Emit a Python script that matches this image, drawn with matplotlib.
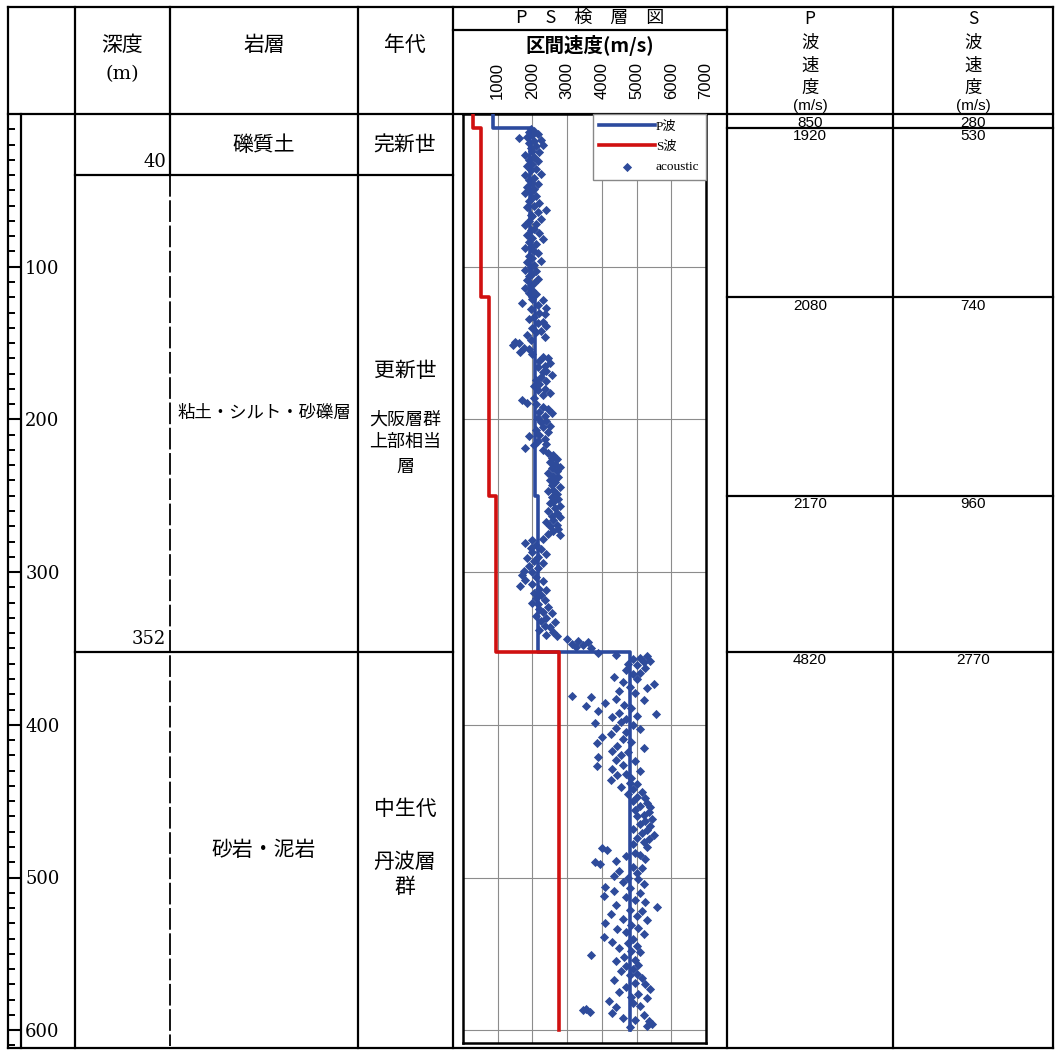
import matplotlib
matplotlib.use("Agg")
import matplotlib.pyplot as plt
from matplotlib.ticker import MultipleLocator, FuncFormatter

JP = ['Noto Sans CJK JP', 'DejaVu Sans']
SERIF = ['DejaVu Serif']
SANS = ['Liberation Sans', 'Noto Sans CJK JP']

# 地層区分 (深度 m)
layer_top = [0, 40, 352]
layer_rock = ['礫質土', '粘土・シルト・砂礫層', '砂岩・泥岩']

# PS検層 区間速度
vel_top = [0, 9, 120, 250, 352]
vel_bottom = [9, 120, 250, 352, 600]
p_vel = [850, 1920, 2080, 2170, 4820]
s_vel = [280, 530, 740, 960, 2770]

vel_ticks = [1000, 2000, 3000, 4000, 5000, 6000, 7000]
depth_ticks = [100, 200, 300, 400, 500, 600]

# acoustic (深度, 速度) 図から読み取り
acoustic = [
    (10, 1950), (11, 2050), (12, 1900), (13, 2150), (14, 2000), (15, 1850), (16, 1600), (17, 2250),
    (18, 2050), (19, 1900), (20, 2300), (21, 2100), (22, 1950), (24, 2000), (25, 2200), (27, 1800),
    (28, 2050), (30, 1900), (31, 2150), (33, 2000), (34, 1850), (36, 2100), (37, 1950), (39, 2250),
    (40, 1800), (42, 2050), (43, 1900), (45, 2000), (46, 2150), (48, 1850), (49, 2050), (51, 1950),
    (52, 1800), (54, 2100), (55, 2000), (57, 1900), (58, 2200), (60, 2050), (61, 1850), (63, 2400),
    (64, 2150), (66, 1950), (67, 2000), (69, 2250), (70, 1900), (72, 2100), (73, 1800), (75, 2050),
    (76, 1950), (78, 2200), (79, 1850), (81, 2000), (82, 2300), (84, 1900), (85, 2100), (87, 1950),
    (88, 1800), (90, 2050), (91, 2150), (93, 1900), (94, 2000), (96, 2250), (97, 1850), (99, 2050),
    (100, 1950), (102, 1800), (103, 2100), (105, 2000), (106, 1900), (108, 2150), (109, 1850),
    (111, 2050), (112, 1950), (114, 1800), (115, 2000), (117, 1900), (118, 2100),
    (121, 2000), (122, 2300), (124, 1700), (125, 2150), (127, 2400), (128, 1950), (130, 2200),
    (131, 2350), (133, 2050), (134, 1900), (136, 2300), (137, 2150), (139, 2400), (140, 2000),
    (142, 2250), (143, 2100), (145, 1850), (146, 2350), (148, 1950), (149, 1500), (150, 1600),
    (151, 1450), (153, 1750), (154, 1900), (156, 1650), (157, 2000), (159, 2300), (160, 2450),
    (162, 2200), (163, 2500), (165, 2350), (166, 2150), (168, 2400), (169, 2300), (171, 2550),
    (172, 2250), (174, 2100), (175, 2400), (177, 2200), (178, 2050), (180, 2350), (181, 2150),
    (183, 2500), (184, 2300), (186, 2050), (187, 1700), (189, 1850), (190, 2100), (192, 2300),
    (193, 2450), (195, 2200), (196, 2550), (198, 2350), (199, 2150), (201, 2400), (202, 2250),
    (204, 2500), (205, 2300), (207, 2100), (208, 2450), (210, 2200), (211, 1900), (213, 2350),
    (214, 2150), (216, 2400), (217, 2050), (219, 1800), (220, 2300), (222, 2450), (223, 2600),
    (225, 2550), (226, 2700), (228, 2500), (229, 2650), (231, 2800), (232, 2550), (234, 2700),
    (235, 2450), (237, 2600), (238, 2750), (240, 2500), (241, 2650), (243, 2550), (244, 2800),
    (246, 2600), (247, 2450), (249, 2700),
    (251, 2550), (252, 2750), (254, 2600), (255, 2500), (257, 2800), (258, 2650), (260, 2450),
    (261, 2700), (263, 2550), (264, 2800), (266, 2600), (267, 2400), (269, 2700), (270, 2500),
    (272, 2750), (273, 2600), (275, 2450), (276, 2800), (278, 2300), (279, 2000), (281, 1800),
    (282, 2100), (284, 1950), (285, 2250), (287, 2000), (288, 2400), (290, 2150), (291, 1850),
    (293, 2050), (294, 2300), (296, 1900), (297, 2150), (299, 1750), (300, 2000), (302, 1700),
    (303, 2100), (305, 1800), (306, 2300), (308, 2000), (309, 1650), (311, 2200), (312, 2400),
    (314, 2050), (315, 2250), (317, 2100), (318, 2350), (320, 2000), (321, 2150), (323, 2450),
    (324, 2200), (326, 2300), (327, 2550), (329, 2100), (330, 2400), (332, 2250), (333, 2650),
    (335, 2350), (336, 2500), (338, 2200), (339, 2600), (341, 2400), (342, 2700), (344, 3000),
    (345, 3300), (346, 3600), (347, 3150), (348, 3450), (349, 3250), (350, 3700),
    (353, 3900), (354, 4400), (355, 5300), (356, 5100), (357, 4900), (358, 5400), (359, 5200),
    (360, 4750), (361, 5000), (363, 5250), (364, 4700), (366, 5100), (367, 4900), (369, 4350),
    (370, 5000), (372, 4600), (373, 5500), (375, 4800), (376, 5300), (378, 4500), (379, 4950),
    (381, 3150), (382, 3700), (383, 4400), (384, 5200), (386, 4100), (387, 4650), (388, 3550),
    (389, 4850), (391, 3900), (392, 4500), (393, 5550), (394, 5000), (395, 4300), (396, 4700),
    (398, 4550), (399, 3800), (400, 4900), (402, 4400), (403, 5100), (405, 4700), (406, 4250),
    (408, 4000), (409, 4600), (411, 4850), (412, 3850), (414, 4450), (415, 5200), (417, 4300),
    (418, 4750), (420, 4550), (421, 3900), (423, 4400), (424, 4950), (426, 4600), (427, 3850),
    (429, 4300), (430, 5100), (432, 4700), (433, 4450), (435, 4850), (436, 4250), (438, 4800),
    (439, 5000), (441, 4550), (442, 4900), (444, 5150), (445, 4750), (447, 5000), (448, 5250),
    (450, 4900), (451, 5300), (453, 5100), (454, 5400), (456, 4950), (457, 5350), (459, 5200),
    (460, 5000), (462, 5450), (463, 5250), (465, 5100), (466, 5400), (468, 4900), (469, 5300),
    (471, 5150), (472, 5500), (474, 5000), (475, 5350), (477, 5200), (478, 4900), (480, 5300),
    (481, 4000), (482, 4150), (484, 4950), (485, 5100), (486, 4700), (488, 5250), (489, 4400),
    (490, 3800), (491, 3950), (493, 4900), (494, 5150), (496, 4500), (497, 5000), (499, 4350),
    (500, 4750), (501, 5050), (503, 4600), (504, 5200), (506, 4100), (507, 4800), (509, 4350),
    (510, 5100), (512, 4050), (513, 4700), (515, 4950), (516, 5250), (518, 4400), (519, 5600),
    (521, 4800), (522, 5150), (524, 4250), (525, 5000), (527, 4600), (528, 5300), (530, 4100),
    (531, 4850), (533, 5050), (534, 4450), (536, 4700), (537, 5200), (539, 4050), (540, 4900),
    (542, 4300), (543, 4750), (545, 5000), (546, 4500), (548, 4850), (549, 5100), (551, 3700),
    (552, 4650), (554, 4950), (555, 4400), (557, 5050), (558, 4700), (560, 4900), (561, 4550),
    (563, 5000), (564, 4800), (566, 5150), (567, 4350), (569, 4950), (570, 5250), (572, 4700),
    (573, 5400), (575, 4500), (576, 5050), (578, 4850), (579, 5300), (581, 4200), (582, 4900),
    (584, 5100), (585, 4400), (586, 3550), (587, 3450), (588, 3650), (589, 4300), (590, 5200),
    (592, 4600), (593, 4950), (594, 5350), (596, 5450), (597, 5300), (598, 4800),
]

P_COLOR = '#2C4A9E'
S_COLOR = '#D01010'
AC_COLOR = '#2E4B9B'

W, H = 1057, 1052
D0 = 114       # 深度0mのpx位置
PXM = 1.527    # 1mあたりのpx


def px2d(y):
    return (y - D0) / PXM


def rect(x0, y0, x1, y1):
    return [x0 / W, 1 - y1 / H, (x1 - x0) / W, (y1 - y0) / H]


fig = plt.figure(figsize=(W / 100, H / 100), dpi=100)

# 表の枠 (px座標)
fr = fig.add_axes([0, 0, 1, 1])
fr.set_xlim(0, W)
fr.set_ylim(H, 0)
fr.set_axis_off()

# 表の中身 (xはpx, yは深度)
bd = fig.add_axes([0, 0, 1, 1])
bd.set_xlim(0, W)
bd.set_ylim(px2d(H), px2d(0))
bd.set_axis_off()

LW = 1.6
col_x = [8, 75, 170, 358, 453, 727, 893, 1053]
for x in col_x:
    if x == 170:
        fr.plot([x, x], [7, 114], color='k', lw=LW)
    else:
        fr.plot([x, x], [7, 1048], color='k', lw=LW)
for y in [7, 114, 1048]:
    fr.plot([8, 1053], [y, y], color='k', lw=LW)
fr.plot([453, 727], [30, 30], color='k', lw=LW)

# 深度と岩層の間の線 (40m以深は破線)
bd.plot([170, 170], [0, layer_top[1]], color='k', lw=LW)
bd.plot([170, 170], [layer_top[1], px2d(1046)], color='k', lw=1.3, ls=(0, (12, 2)))

# ヘッダー
fr.text(122, 45, '深度', ha='center', va='center', fontsize=15, family=JP)
fr.text(122, 74, '(m)', ha='center', va='center', fontsize=14, family=SERIF)
fr.text(264, 45, '岩層', ha='center', va='center', fontsize=15, family=JP)
fr.text(405, 45, '年代', ha='center', va='center', fontsize=15, family=JP)
fr.text(590, 18, 'P　S　検　層　図', ha='center', va='center', fontsize=13, family=JP)
fr.text(590, 46, '区間速度(m/s)', ha='center', va='center', fontsize=14,
        family=JP, fontweight='bold')
for cx, w in [(810, 'P'), (973, 'S')]:
    for txt, y in [(w, 19), ('波', 43), ('速', 66), ('度', 88)]:
        fr.text(cx, y, txt, ha='center', va='center', fontsize=12.5, family=JP)
    fr.text(cx, 106, '(m/s)', ha='center', va='center', fontsize=11, family=SANS)

# 地層の境界と深度
for d in layer_top[1:]:
    bd.plot([75, 453], [d, d], color='k', lw=LW)
    bd.text(166, d - 8.5, str(d), ha='right', va='center', fontsize=13, family=SERIF)

bd.text(264, 20, layer_rock[0], ha='center', va='center', fontsize=15, family=JP)
bd.text(264, 196, layer_rock[1], ha='center', va='center', fontsize=12.5, family=JP)
bd.text(264, 482, layer_rock[2], ha='center', va='center', fontsize=15, family=JP)
bd.text(405, 20, '完新世', ha='center', va='center', fontsize=15, family=JP)
bd.text(405, 168, '更新世', ha='center', va='center', fontsize=15, family=JP)
for txt, d in [('大阪層群', 200), ('上部相当', 215), ('層', 231)]:
    bd.text(405, d, txt, ha='center', va='center', fontsize=13, family=JP)
bd.text(405, 455, '中生代', ha='center', va='center', fontsize=15, family=JP)
for txt, d in [('丹波層', 490), ('群', 506)]:
    bd.text(405, d, txt, ha='center', va='center', fontsize=15, family=JP)

# 速度表
for d in vel_top[1:]:
    bd.plot([727, 1053], [d, d], color='k', lw=LW)
for d, p, s in zip(vel_top, p_vel, s_vel):
    bd.text(810, d + 1.0, str(p), ha='center', va='top', fontsize=11, family=SANS)
    bd.text(973, d + 1.0, str(s), ha='center', va='top', fontsize=11, family=SANS)

# 深度目盛
ax_d = fig.add_axes(rect(8, 114, 21, 1048))
ax_d.set_ylim(px2d(1048), 0)
ax_d.set_xticks([])
ax_d.patch.set_alpha(0)
for side in ['top', 'bottom', 'left']:
    ax_d.spines[side].set_visible(False)
ax_d.spines['right'].set_linewidth(LW)
ax_d.set_yticks(depth_ticks)
ax_d.yaxis.set_minor_locator(MultipleLocator(10))
ax_d.yaxis.set_major_formatter(FuncFormatter(lambda v, p: f'{v:.0f}'))
ax_d.tick_params(axis='y', which='both', left=True, right=False, labelleft=False,
                 labelright=True, direction='in')
ax_d.tick_params(axis='y', which='major', length=9.4, width=1.5, pad=3,
                 labelsize=13, labelfontfamily='DejaVu Serif')
ax_d.tick_params(axis='y', which='minor', length=5, width=1.4)

# PS検層図
ax = fig.add_axes(rect(463, 114, 706, 1043))
ax.set_xlim(0, 7000)
ax.set_ylim(px2d(1043), 0)

ac_depth = [a[0] for a in acoustic]
ac_vel = [a[1] for a in acoustic]
sc = ax.scatter(ac_vel, ac_depth, marker='D', s=22, color=AC_COLOR, linewidths=0,
                zorder=3, label='acoustic')

px, py, sx, sy = [], [], [], []
for top, bot, p, s in zip(vel_top, vel_bottom, p_vel, s_vel):
    px += [p, p]
    py += [top, bot]
    sx += [s, s]
    sy += [top, bot]
lp, = ax.plot(px, py, color=P_COLOR, lw=2.6, zorder=4, label='P波')
ls_, = ax.plot(sx, sy, color=S_COLOR, lw=2.6, zorder=5, label='S波')

ax.xaxis.tick_top()
ax.set_xticks(vel_ticks)
ax.tick_params(axis='x', length=0, labelrotation=90, pad=11, labelsize=12,
               labelfontfamily='Liberation Sans')
ax.set_yticks(depth_ticks)
ax.tick_params(axis='y', left=False, labelleft=False)
ax.grid(True, color='#8c8c8c', lw=0.8)
ax.set_axisbelow(True)
for sp in ax.spines.values():
    sp.set_linewidth(1.8)

ax.legend(handles=[lp, ls_, sc], loc='upper right', borderaxespad=0, fancybox=False,
          edgecolor='#888888', framealpha=1,
          prop={'family': ['Liberation Serif', 'Noto Sans CJK JP'], 'size': 9.5},
          handlelength=4.2, handletextpad=0.1, labelspacing=0.6, borderpad=0.5)

fig.savefig('out.png', dpi=100)
